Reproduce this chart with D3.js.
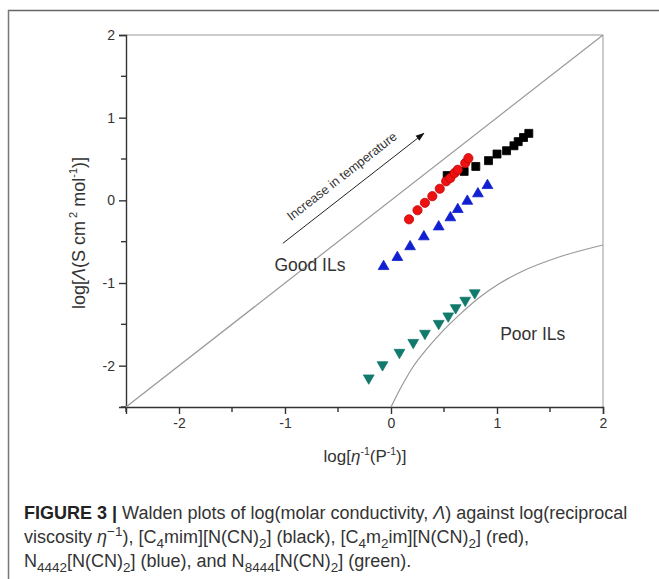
<!DOCTYPE html>
<html>
<head>
<meta charset="utf-8">
<script src="https://cdn.jsdelivr.net/npm/d3@7"></script>
<style>
  html, body { margin: 0; padding: 0; background: #fff; }
  svg { display: block; }
</style>
</head>
<body>
<svg id="chart" width="659" height="579"></svg>
<script>
// Walden plot: log molar conductivity vs log reciprocal viscosity
const c4mimX = [0.53, 0.69, 0.80, 0.92, 1.00, 1.09, 1.16, 1.20, 1.25, 1.30];
const c4mimY = [0.30, 0.35, 0.41, 0.48, 0.56, 0.60, 0.66, 0.71, 0.76, 0.81];

const c4m2imX = [0.17, 0.25, 0.32, 0.39, 0.46, 0.52, 0.56, 0.60, 0.63, 0.70, 0.73];
const c4m2imY = [-0.23, -0.12, -0.03, 0.05, 0.14, 0.23, 0.27, 0.33, 0.37, 0.45, 0.51];

const n4442X = [-0.07, 0.06, 0.18, 0.31, 0.45, 0.56, 0.63, 0.72, 0.82, 0.91];
const n4442Y = [-0.80, -0.69, -0.56, -0.44, -0.32, -0.21, -0.11, -0.01, 0.08, 0.18];

const n8444X = [-0.21, -0.08, 0.08, 0.21, 0.32, 0.45, 0.54, 0.61, 0.70, 0.79];
const n8444Y = [-2.15, -1.99, -1.84, -1.72, -1.61, -1.49, -1.40, -1.30, -1.21, -1.12];

// ideal KCl line and the boundary of the "poor" region
const idealX = [-2.5, 2];
const idealY = [-2.5, 2];
const poorX = [0, 0.1, 0.21, 0.35, 0.49, 0.65, 0.84, 1.02, 1.22, 1.6, 2];
const poorY = [-2.5, -2.25, -2.01, -1.78, -1.58, -1.38, -1.17, -1.01, -0.87, -0.68, -0.54];

const xTicks = [-2, -1, 0, 1, 2];
const yTicks = [-2, -1, 0, 1, 2];
const minorTicks = [-2.5, -1.5, -0.5, 0.5, 1.5];

const arrowFrom = [-1.02, -0.52];
const arrowTo = [0.31, 0.81];

const svg = d3.select("#chart");
const W = 659, H = 579;
svg.append("rect").attr("width", W).attr("height", H).attr("fill", "#fff");

// outer panel rules
svg.append("line").attr("x1", 8).attr("x2", W).attr("y1", 10.5).attr("y2", 10.5)
  .attr("stroke", "#666").attr("stroke-width", 1.5);
svg.append("line").attr("x1", 8.5).attr("x2", 8.5).attr("y1", 10).attr("y2", H)
  .attr("stroke", "#777").attr("stroke-width", 1.5);

const x = d3.scaleLinear().domain([-2.5, 2]).range([126, 603]);
const y = d3.scaleLinear().domain([-2.5, 2]).range([407, 35]);

const font = "Liberation Sans, Arial, sans-serif";

// frame top / right
svg.append("line").attr("x1", x(-2.5)).attr("x2", x(2)).attr("y1", y(2)).attr("y2", y(2))
  .attr("stroke", "#999").attr("stroke-width", 1);
svg.append("line").attr("x1", x(2)).attr("x2", x(2)).attr("y1", y(2)).attr("y2", y(-2.5))
  .attr("stroke", "#999").attr("stroke-width", 1);

// axes
const xAxis = d3.axisBottom(x).tickValues(xTicks).tickSize(7).tickPadding(4).tickFormat(d3.format("d"));
const yAxis = d3.axisLeft(y).tickValues(yTicks).tickSize(7).tickPadding(4).tickFormat(d3.format("d"));

const gx = svg.append("g").attr("transform", `translate(0,${y(-2.5)})`).call(xAxis);
const gy = svg.append("g").attr("transform", `translate(${x(-2.5)},0)`).call(yAxis);
[gx, gy].forEach(g => {
  g.select(".domain").attr("stroke", "#333").attr("stroke-width", 1.4);
  g.selectAll(".tick line").attr("stroke", "#333").attr("stroke-width", 1.4);
  g.selectAll(".tick text").attr("font-family", font).attr("font-size", 14).attr("fill", "#333");
});
gx.selectAll(".tick text").text(d => d < 0 ? "-" + Math.abs(d) : d);
gy.selectAll(".tick text").text(d => d < 0 ? "-" + Math.abs(d) : d);

gx.selectAll(".minor").data(minorTicks).enter().append("line")
  .attr("x1", d => x(d)).attr("x2", d => x(d)).attr("y1", 0).attr("y2", 5)
  .attr("stroke", "#333").attr("stroke-width", 1.4);
gy.selectAll(".minor").data(minorTicks).enter().append("line")
  .attr("y1", d => y(d)).attr("y2", d => y(d)).attr("x1", 0).attr("x2", -5)
  .attr("stroke", "#333").attr("stroke-width", 1.4);

// reference lines
const line = d3.line().x(d => x(d[0])).y(d => y(d[1]));
svg.append("path").datum(d3.zip(idealX, idealY)).attr("d", line)
  .attr("fill", "none").attr("stroke", "#999").attr("stroke-width", 1.2);
svg.append("path").datum(d3.zip(poorX, poorY)).attr("d", line.curve(d3.curveMonotoneX))
  .attr("fill", "none").attr("stroke", "#999").attr("stroke-width", 1.2);

// region labels
svg.append("text").attr("x", x(-1.1)).attr("y", y(-0.85)).text("Good ILs")
  .attr("font-family", font).attr("font-size", 17.5).attr("fill", "#333");
svg.append("text").attr("x", x(1.03)).attr("y", y(-1.69)).text("Poor ILs")
  .attr("font-family", font).attr("font-size", 17.5).attr("fill", "#333");

// temperature arrow
const defs = svg.append("defs");
defs.append("marker").attr("id", "head").attr("viewBox", "0 0 10 10")
  .attr("refX", 9).attr("refY", 5).attr("markerWidth", 9).attr("markerHeight", 9)
  .attr("markerUnits", "userSpaceOnUse").attr("orient", "auto")
  .append("path").attr("d", "M0,1.5 L10,5 L0,8.5 Z").attr("fill", "#111");
const ax0 = x(arrowFrom[0]), ay0 = y(arrowFrom[1]), ax1 = x(arrowTo[0]), ay1 = y(arrowTo[1]);
svg.append("line").attr("x1", ax0).attr("y1", ay0).attr("x2", ax1).attr("y2", ay1)
  .attr("stroke", "#222").attr("stroke-width", 1).attr("marker-end", "url(#head)");
const ang = Math.atan2(ay1 - ay0, ax1 - ax0);
const off = 11;
const mx = (ax0 + ax1) / 2 + off * Math.sin(ang) - 2;
const my = (ay0 + ay1) / 2 - off * Math.cos(ang);
svg.append("text").attr("transform", `translate(${mx},${my}) rotate(${ang * 180 / Math.PI})`)
  .attr("text-anchor", "middle").attr("font-family", font).attr("font-size", 12.8).attr("fill", "#333")
  .text("Increase in temperature");

// series markers
const series = [
  { xs: c4mimX, ys: c4mimY, type: d3.symbolSquare, size: 64, fill: "#000", stroke: "#000", rot: 0 },
  { xs: c4m2imX, ys: c4m2imY, type: d3.symbolCircle, size: 66, fill: "#ee1111", stroke: "#c40000", rot: 0 },
  { xs: n4442X, ys: n4442Y, type: d3.symbolTriangle, size: 50, fill: "#1020d0", stroke: "#1020d0", rot: 0 },
  { xs: n8444X, ys: n8444Y, type: d3.symbolTriangle, size: 50, fill: "#127a6c", stroke: "#127a6c", rot: 180 }
];
series.forEach(s => {
  svg.append("g").selectAll("path").data(d3.zip(s.xs, s.ys)).enter().append("path")
    .attr("transform", d => `translate(${x(d[0])},${y(d[1])}) rotate(${s.rot})`)
    .attr("d", d3.symbol().type(s.type).size(s.size))
    .attr("fill", s.fill).attr("stroke", s.stroke).attr("stroke-width", 0.8);
});

// axis titles
const yt = svg.append("text").attr("transform", `translate(85,233) rotate(-90)`)
  .attr("text-anchor", "middle").attr("font-family", font).attr("font-size", 18).attr("fill", "#333");
yt.append("tspan").text("log[");
yt.append("tspan").attr("font-style", "italic").text("Λ");
yt.append("tspan").text("(S cm");
yt.append("tspan").attr("font-size", 11).attr("dy", -8).text(" 2");
yt.append("tspan").attr("dy", 8).text(" mol");
yt.append("tspan").attr("font-size", 11).attr("dy", -8).text("-1");
yt.append("tspan").attr("dy", 8).text(")]");

const xt = svg.append("text").attr("transform", `translate(365,462)`)
  .attr("text-anchor", "middle").attr("font-family", font).attr("font-size", 17).attr("fill", "#333");
xt.append("tspan").text("log[");
xt.append("tspan").attr("font-style", "italic").text("η");
xt.append("tspan").attr("font-size", 10.5).attr("dy", -7).text("-1");
xt.append("tspan").attr("dy", 7).text("(P");
xt.append("tspan").attr("font-size", 10.5).attr("dy", -7).text("-1");
xt.append("tspan").attr("dy", 7).text(")]");

// figure caption
const capFont = "Liberation Sans, Arial, sans-serif";
const capSize = 18;
const lines = [
  [["FIGURE 3 |", "b"], [" Walden plots of log(molar conductivity, "], ["Λ", "i"], [") against log(reciprocal"]],
  [["viscosity "], ["η", "i"], ["−1", "sup"], ["), [C"], ["4", "sub"], ["mim][N(CN)"], ["2", "sub"], ["] (black), [C"], ["4", "sub"], ["m"], ["2", "sub"], ["im][N(CN)"], ["2", "sub"], ["] (red),"]],
  [["N"], ["4442", "sub"], ["[N(CN)"], ["2", "sub"], ["] (blue), and N"], ["8444", "sub"], ["[N(CN)"], ["2", "sub"], ["] (green)."]]
];
const baselines = [519, 543, 567];
lines.forEach((parts, i) => {
  const t = svg.append("text").attr("x", 24).attr("y", baselines[i])
    .attr("font-family", capFont).attr("font-size", capSize).attr("fill", "#333");
  let shift = 0;
  parts.forEach(([s, k]) => {
    const sp = t.append("tspan").text(s);
    let target = 0;
    if (k === "b") sp.attr("font-weight", "bold").attr("fill", "#222");
    if (k === "i") sp.attr("font-style", "italic");
    if (k === "sub") { sp.attr("font-size", capSize * 0.75); target = 4.5; }
    if (k === "sup") { sp.attr("font-size", capSize * 0.75); target = -7; }
    if (target !== shift) { sp.attr("dy", target - shift); shift = target; }
  });
});
</script>
</body>
</html>
